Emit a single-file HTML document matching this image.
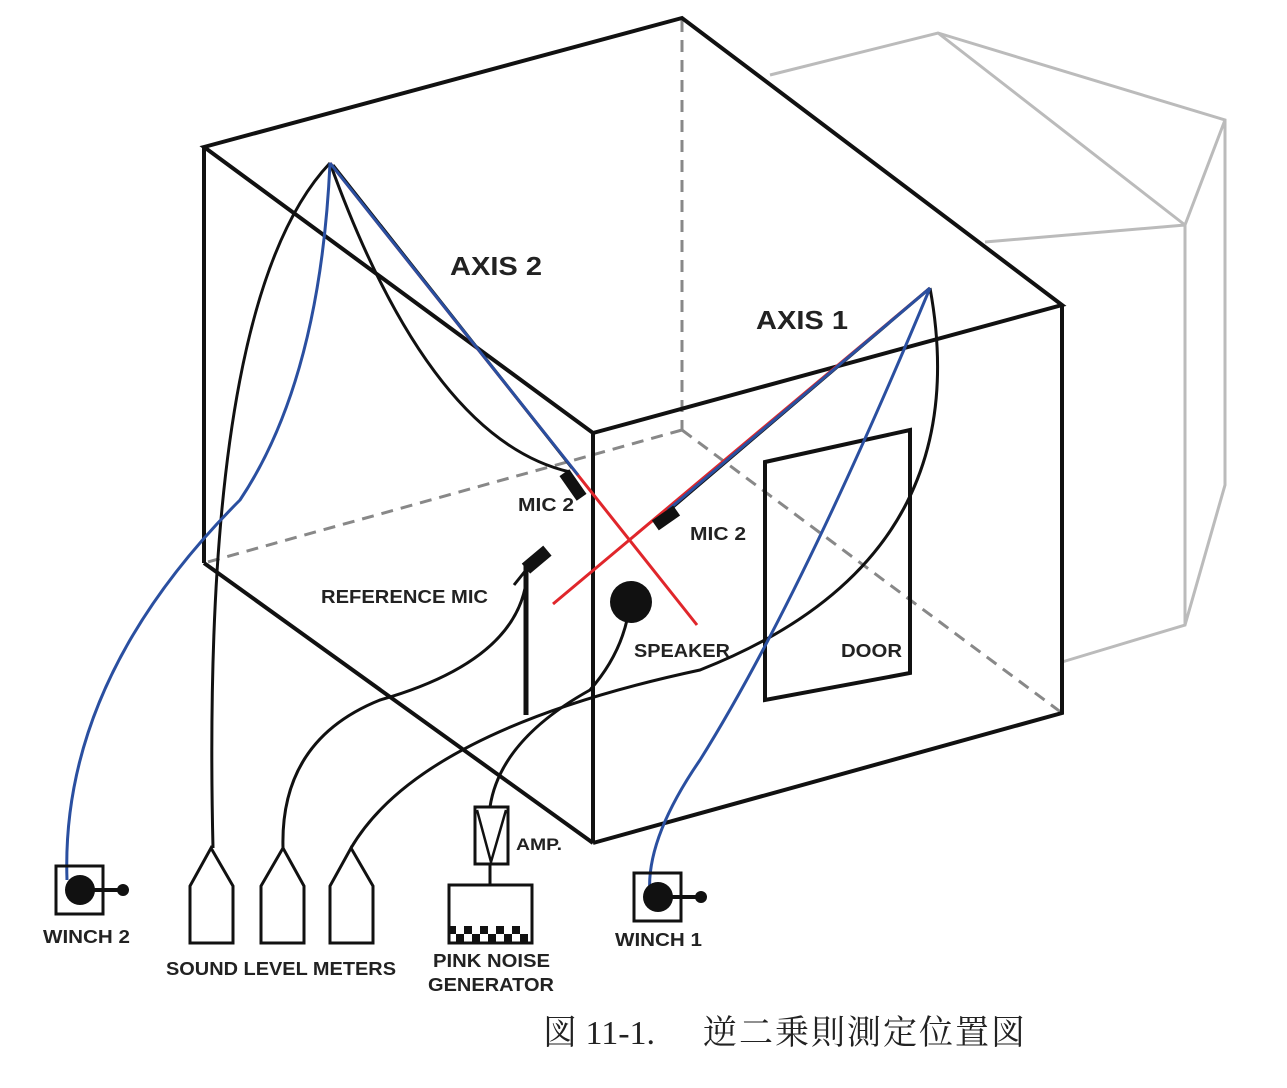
<!DOCTYPE html>
<html><head><meta charset="utf-8"><style>
body{margin:0;background:#fff}
svg{display:block}
text{font-family:"Liberation Sans",Arial,sans-serif;font-weight:bold;fill:#222}
text.cap{font-family:"Liberation Serif","Noto Serif CJK SC",serif;font-weight:normal}
</style></head><body>
<svg width="1287" height="1088" viewBox="0 0 1287 1088" xmlns="http://www.w3.org/2000/svg">
<g fill="none" stroke="#bbb" stroke-width="3">
<polyline points="770,75 938,33 1225,120 1225,485 1185,625 1062,662"/>
<polyline points="938,33 1185,225 1225,120"/>
<polyline points="985,242 1185,225 1185,625"/>
</g>
<g fill="none" stroke="#888" stroke-width="3" stroke-dasharray="12,8">
<line x1="682" y1="20" x2="682" y2="430"/>
<line x1="682" y1="430" x2="204" y2="563"/>
<line x1="682" y1="430" x2="1062" y2="713"/>
</g>
<g fill="none" stroke="#111" stroke-width="4" stroke-linejoin="miter">
<polygon points="204,147 682,18 1062,305 593,433"/>
<line x1="204" y1="147" x2="204" y2="563"/>
<line x1="204" y1="563" x2="593" y2="843"/>
<line x1="593" y1="433" x2="593" y2="843"/>
<polyline points="1062,305 1062,713 593,843"/>
<polygon points="765,462 910,430 910,673 765,700"/>
</g>
<g stroke="#e0262b" stroke-width="3" fill="none">
<line x1="330" y1="163" x2="697" y2="625"/>
<line x1="930" y1="288" x2="553" y2="604"/>
</g>
<g stroke="#111" stroke-width="3" fill="none">
<path d="M330,163 Q430,440 570,472"/>
<path d="M333,165 L572,468"/>
<path d="M330,163 Q200,300 213,848"/>
<path d="M930,288 L672,508"/>
<path d="M930,288 Q980,560 700,670 Q420,730 351,848"/>
<path d="M527,575 Q520,660 380,700 Q280,740 283,848"/>
<path d="M630,602 Q625,650 590,690 Q500,740 490,807"/>
<line x1="490" y1="864" x2="490" y2="885"/>
</g>
<g stroke="#2a4fa0" stroke-width="3" fill="none">
<path d="M330,163 L578,475"/>
<path d="M330,163 Q320,380 240,500 Q60,680 67,880"/>
<path d="M930,288 L668,510"/>
<path d="M930,288 Q800,600 700,760 Q645,840 650,895"/>
</g>
<rect x="567" y="470" width="12" height="30" fill="#111" transform="rotate(-35 573 485)"/>
<rect x="660" y="505" width="12" height="26" fill="#111" transform="rotate(55 666 518)"/>
<line x1="526" y1="715" x2="526" y2="565" stroke="#111" stroke-width="5"/>
<line x1="514" y1="585" x2="530" y2="565" stroke="#111" stroke-width="3"/>
<rect x="523" y="553" width="28" height="13" fill="#111" transform="rotate(-40 537 560)"/>
<circle cx="631" cy="602" r="21" fill="#111"/>
<g stroke="#111" stroke-width="3" fill="none">
<rect x="56" y="866" width="47" height="48"/>
<rect x="634" y="873" width="47" height="48"/>
</g>
<circle cx="80" cy="890" r="15" fill="#111"/><line x1="90" y1="890" x2="122" y2="890" stroke="#111" stroke-width="4"/><circle cx="123" cy="890" r="6" fill="#111"/>
<circle cx="658" cy="897" r="15" fill="#111"/><line x1="668" y1="897" x2="700" y2="897" stroke="#111" stroke-width="4"/><circle cx="701" cy="897" r="6" fill="#111"/>
<g stroke="#111" stroke-width="3" fill="#fff">
<polygon points="190,943 190,886 211,848 233,886 233,943"/>
<polygon points="261,943 261,886 283,848 304,886 304,943"/>
<polygon points="330,943 330,886 351,848 373,886 373,943"/>
<rect x="475" y="807" width="33" height="57"/>
<rect x="449" y="885" width="83" height="58"/>
</g>
<polyline points="477,810 491,862 506,810" fill="none" stroke="#111" stroke-width="2.5"/>
<g fill="#111">
<rect x="448" y="926" width="8" height="8"/><rect x="456" y="934" width="8" height="8"/>
<rect x="464" y="926" width="8" height="8"/><rect x="472" y="934" width="8" height="8"/>
<rect x="480" y="926" width="8" height="8"/><rect x="488" y="934" width="8" height="8"/>
<rect x="496" y="926" width="8" height="8"/><rect x="504" y="934" width="8" height="8"/>
<rect x="512" y="926" width="8" height="8"/><rect x="520" y="934" width="8" height="8"/>
</g>
<text x="450" y="275" font-size="26" textLength="92" lengthAdjust="spacingAndGlyphs">AXIS 2</text>
<text x="756" y="329" font-size="26" textLength="92" lengthAdjust="spacingAndGlyphs">AXIS 1</text>
<text x="518" y="511" font-size="18" textLength="56" lengthAdjust="spacingAndGlyphs">MIC 2</text>
<text x="690" y="540" font-size="18" textLength="56" lengthAdjust="spacingAndGlyphs">MIC 2</text>
<text x="321" y="603" font-size="18" textLength="167" lengthAdjust="spacingAndGlyphs">REFERENCE MIC</text>
<text x="634" y="657" font-size="18" textLength="96" lengthAdjust="spacingAndGlyphs">SPEAKER</text>
<text x="841" y="657" font-size="18" textLength="61" lengthAdjust="spacingAndGlyphs">DOOR</text>
<text x="516" y="850" font-size="17" textLength="46" lengthAdjust="spacingAndGlyphs">AMP.</text>
<text x="43" y="943" font-size="18" textLength="87" lengthAdjust="spacingAndGlyphs">WINCH 2</text>
<text x="615" y="946" font-size="18" textLength="87" lengthAdjust="spacingAndGlyphs">WINCH 1</text>
<text x="166" y="975" font-size="18" textLength="230" lengthAdjust="spacingAndGlyphs">SOUND LEVEL METERS</text>
<text x="433" y="967" font-size="18" textLength="117" lengthAdjust="spacingAndGlyphs">PINK NOISE</text>
<text x="428" y="991" font-size="18" textLength="126" lengthAdjust="spacingAndGlyphs">GENERATOR</text>
<text class="cap" x="543" y="1044" font-size="34">図 11-1.</text>
<text class="cap" x="703" y="1044" font-size="34" textLength="322" lengthAdjust="spacing">逆二乗則測定位置図</text>
</svg>
</body></html>
